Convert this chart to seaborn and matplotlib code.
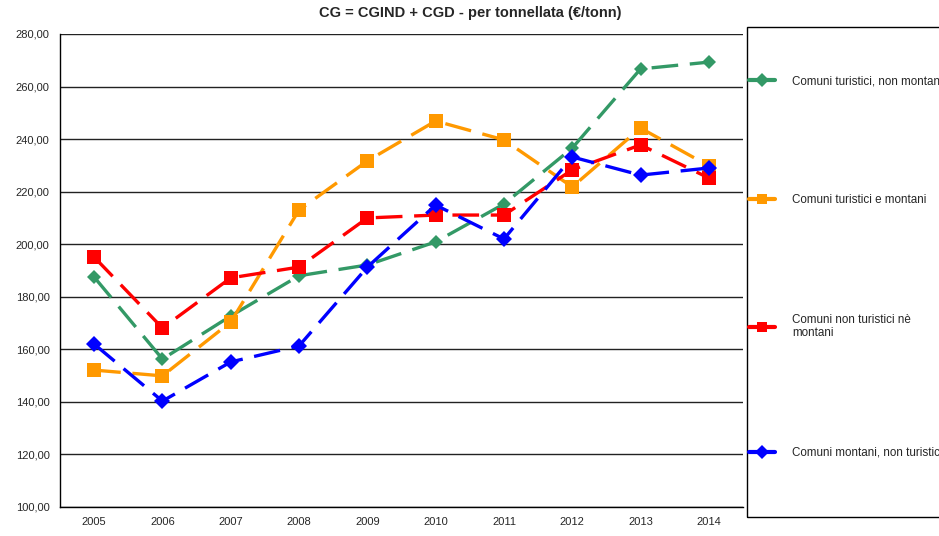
import seaborn as sns
import pandas as pd
import matplotlib.pyplot as plt
from matplotlib.patches import Rectangle
from matplotlib.lines import Line2D
from matplotlib.ticker import FuncFormatter, FixedLocator

anni = ['2005', '2006', '2007', '2008', '2009', '2010', '2011', '2012', '2013', '2014']
turistici_non_montani = [187.5, 156.3, 172.7, 188.0, 192.1, 200.9, 215.3, 236.6, 266.7, 269.3]
turistici_e_montani = [152.1, 149.9, 170.4, 213.0, 231.7, 246.9, 239.7, 221.8, 244.2, 229.8]
non_turistici_ne_montani = [195.1, 168.1, 187.2, 191.3, 210.0, 211.1, 211.1, 228.3, 237.8, 225.2]
montani_non_turistici = [162.0, 140.3, 155.2, 161.3, 191.3, 214.9, 202.0, 233.2, 226.3, 229.0]

serie = {
    'Comuni turistici, non montani': turistici_non_montani,
    'Comuni turistici e montani': turistici_e_montani,
    'Comuni non turistici nè\nmontani': non_turistici_ne_montani,
    'Comuni montani, non turistici': montani_non_turistici,
}
colori = ['#339966', '#FF9900', '#FF0000', '#0000FF']
marcatori = ['D', 's', 's', 'D']
dim = [7, 10, 10, 8]

df = pd.DataFrame([
    {'anno': i, 'serie': nome, 'valore': v}
    for nome, valori in serie.items()
    for i, v in enumerate(valori)
])

sns.set_style('white')
plt.rcParams['font.family'] = ['Liberation Sans', 'DejaVu Sans']

fig = plt.figure(figsize=(9.39, 5.36), dpi=100)
ax = fig.add_axes([60 / 939, 29 / 536, 683 / 939, 473 / 536])

for (nome, gruppo), col, m, ms in zip(df.groupby('serie', sort=False), colori, marcatori, dim):
    sns.lineplot(data=gruppo, x='anno', y='valore', ax=ax, color=col, marker=m,
                 markersize=ms, markeredgewidth=0, linewidth=2.4, legend=False)
    ax.lines[-1].set_dashes((8, 3.5))

ax.set_xlim(-0.5, 9.5)
ax.set_ylim(100, 280)
ax.set_yticks(range(100, 281, 20))
ax.yaxis.set_major_formatter(FuncFormatter(lambda v, p: f'{v:.2f}'.replace('.', ',')))
ax.set_xticks(range(len(anni)))
ax.set_xticklabels(anni)
ax.xaxis.set_minor_locator(FixedLocator([i - 0.5 for i in range(len(anni) + 1)]))
ax.tick_params(axis='x', which='major', length=0, labelsize=8, pad=7)
ax.tick_params(axis='x', which='minor', length=4, width=1, color='black', direction='out')
ax.tick_params(axis='y', length=4, width=1, color='black', direction='out', labelsize=8)
ax.grid(axis='y', color='#222222', linewidth=1)
ax.set_axisbelow(True)
ax.set_xlabel('')
ax.set_ylabel('')
for s in ['top', 'right']:
    ax.spines[s].set_visible(False)
for s in ['left', 'bottom']:
    ax.spines[s].set_color('black')
    ax.spines[s].set_linewidth(1)

fig.text(470 / 939, 1 - 13 / 536, 'CG = CGIND + CGD - per tonnellata (€/tonn)',
         ha='center', va='center', fontsize=10.5, fontweight='bold')

fig.patches.append(Rectangle((747 / 939, 19 / 536), 0.3, 490 / 536, transform=fig.transFigure,
                             fill=False, edgecolor='black', linewidth=1))
handles = [Line2D([0], [0], color=c, marker=m, markersize=7, markeredgewidth=0, linewidth=3)
           for c, m in zip(colori, marcatori)]
fig.legend(handles, list(serie.keys()), loc='upper left',
           bbox_to_anchor=(749 / 939, 1 - 75 / 536), frameon=False, fontsize=8.4,
           numpoints=1, handlelength=2.2, handletextpad=1.5, labelspacing=9.2,
           borderaxespad=0, borderpad=0)

plt.savefig('out.png', dpi=100)
